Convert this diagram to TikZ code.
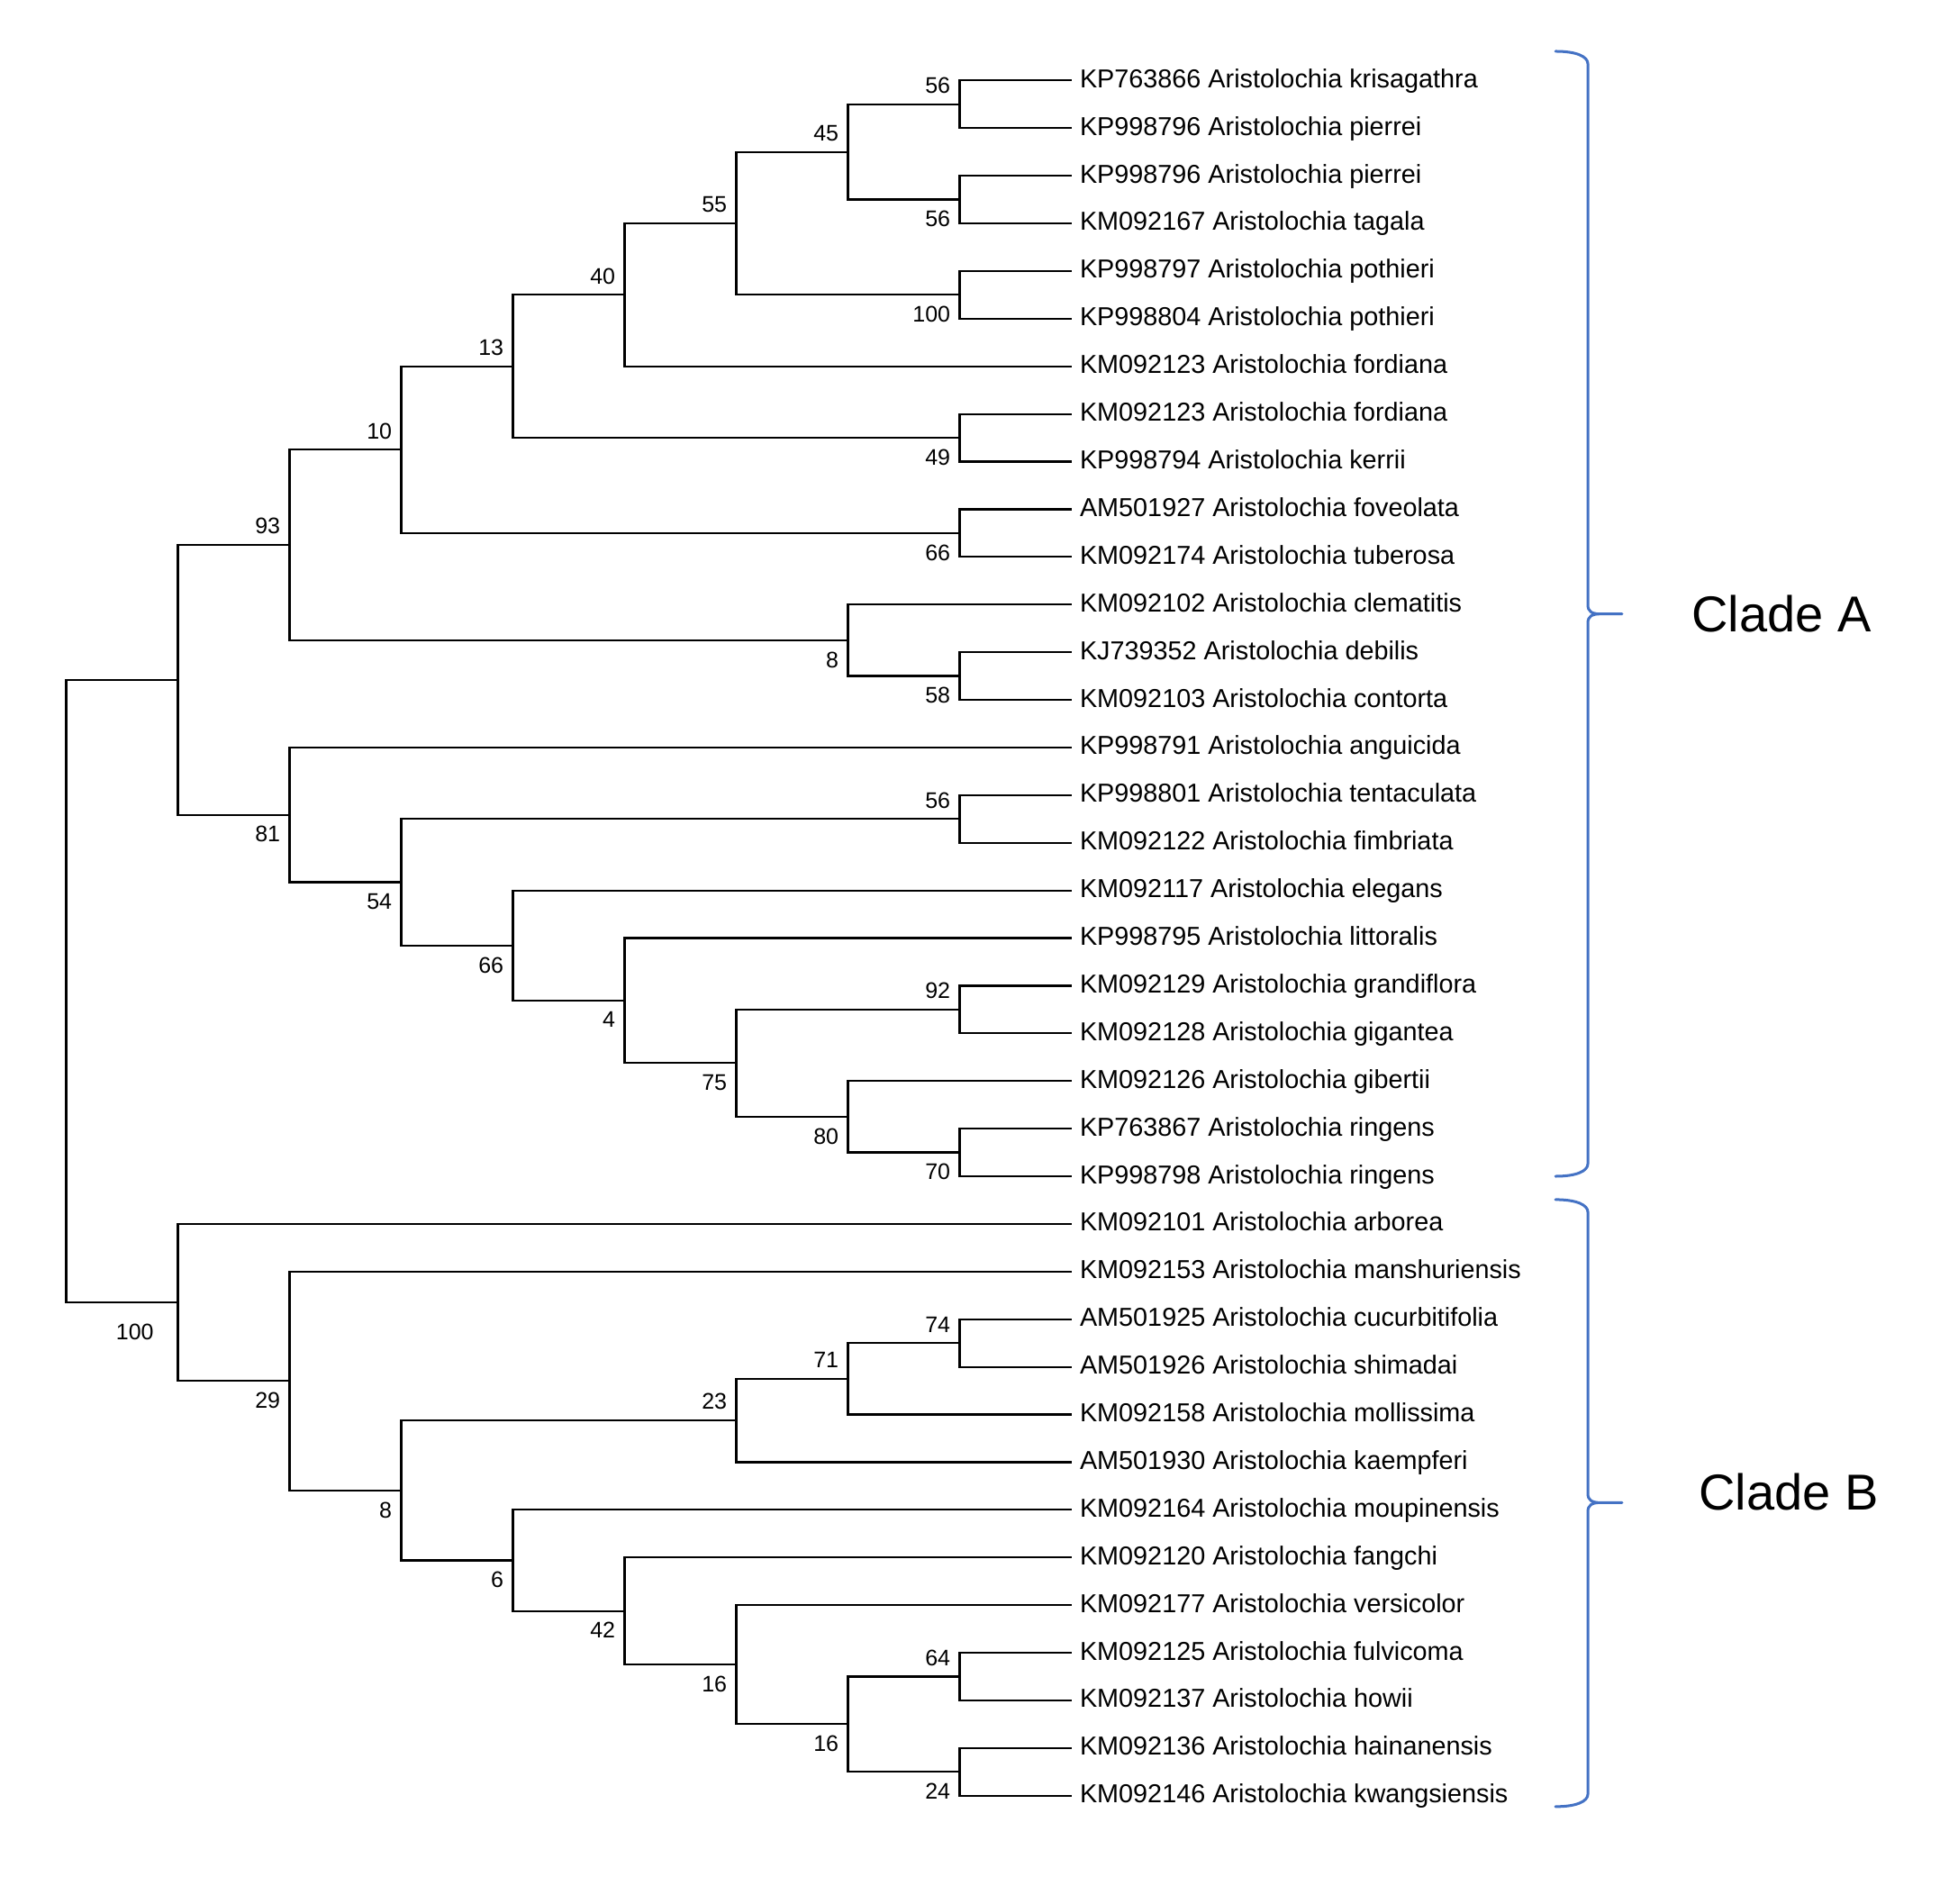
\documentclass[tikz,border=0pt]{standalone}
\usepackage{fontspec}
\setmainfont{Liberation Sans}
\usepackage{xcolor}
\usetikzlibrary{positioning,calc}

\definecolor{braceblue}{RGB}{68,114,196}

\begin{document}
\begin{tikzpicture}[x=62pt, y=-26.45pt,
    branch/.style={draw, line width=1.1pt},
    leaf/.style={anchor=west, inner xsep=4.75pt, inner ysep=0pt, outer sep=0pt, text height=8pt, text depth=0pt, font=\fontsize{14.4}{16}\selectfont},
    bootup/.style={anchor=south east, inner sep=0pt, xshift=-5pt, yshift=5.8pt, font=\fontsize{12.5}{14}\selectfont},
    bootdown/.style={anchor=north east, inner sep=0pt, xshift=-5pt, yshift=-6.2pt, font=\fontsize{12.5}{14}\selectfont},
    clade/.style={inner sep=0pt, font=\fontsize{28}{32}\selectfont},
    brace/.style={draw=braceblue, line width=1.5pt, line cap=round}]
    \useasboundingbox (-36.75pt,18.2pt) rectangle (1045.25pt,-1038.8pt);

    % inner nodes (level, row)
    \coordinate (root) at (0,20.115);
    \coordinate (A) at (1,13.582);
    \coordinate (B) at (1,26.648);
    \coordinate (n93) at (2,10.75);
    \coordinate (n10) at (3,8.75);
    \coordinate (n13) at (4,7);
    \coordinate (n40) at (5,5.5);
    \coordinate (n55) at (6,4);
    \coordinate (n45) at (7,2.5);
    \coordinate (n56a) at (8,1.5);
    \coordinate (n56b) at (8,3.5);
    \coordinate (n100a) at (8,5.5);
    \coordinate (n49) at (8,8.5);
    \coordinate (n66a) at (8,10.5);
    \coordinate (n8a) at (7,12.75);
    \coordinate (n58) at (8,13.5);
    \coordinate (n81) at (2,16.414);
    \coordinate (n54) at (3,17.828);
    \coordinate (n56c) at (8,16.5);
    \coordinate (n66b) at (4,19.156);
    \coordinate (n4) at (5,20.3125);
    \coordinate (n75) at (6,21.625);
    \coordinate (n92) at (8,20.5);
    \coordinate (n80) at (7,22.75);
    \coordinate (n70) at (8,23.5);
    \coordinate (n29) at (2,28.297);
    \coordinate (n8b) at (3,30.594);
    \coordinate (n23) at (6,29.125);
    \coordinate (n71) at (7,28.25);
    \coordinate (n74) at (8,27.5);
    \coordinate (n6) at (4,32.0625);
    \coordinate (n42) at (5,33.125);
    \coordinate (n16a) at (6,34.25);
    \coordinate (n16b) at (7,35.5);
    \coordinate (n64) at (8,34.5);
    \coordinate (n24) at (8,36.5);

    % leaves
    \node (l1) [leaf] at (9,1) {KP763866 Aristolochia krisagathra};
    \node (l2) [leaf] at (9,2) {KP998796 Aristolochia pierrei};
    \node (l3) [leaf] at (9,3) {KP998796 Aristolochia pierrei};
    \node (l4) [leaf] at (9,4) {KM092167 Aristolochia tagala};
    \node (l5) [leaf] at (9,5) {KP998797 Aristolochia pothieri};
    \node (l6) [leaf] at (9,6) {KP998804 Aristolochia pothieri};
    \node (l7) [leaf] at (9,7) {KM092123 Aristolochia fordiana};
    \node (l8) [leaf] at (9,8) {KM092123 Aristolochia fordiana};
    \node (l9) [leaf] at (9,9) {KP998794 Aristolochia kerrii};
    \node (l10) [leaf] at (9,10) {AM501927 Aristolochia foveolata};
    \node (l11) [leaf] at (9,11) {KM092174 Aristolochia tuberosa};
    \node (l12) [leaf] at (9,12) {KM092102 Aristolochia clematitis};
    \node (l13) [leaf] at (9,13) {KJ739352 Aristolochia debilis};
    \node (l14) [leaf] at (9,14) {KM092103 Aristolochia contorta};
    \node (l15) [leaf] at (9,15) {KP998791 Aristolochia anguicida};
    \node (l16) [leaf] at (9,16) {KP998801 Aristolochia tentaculata};
    \node (l17) [leaf] at (9,17) {KM092122 Aristolochia fimbriata};
    \node (l18) [leaf] at (9,18) {KM092117 Aristolochia elegans};
    \node (l19) [leaf] at (9,19) {KP998795 Aristolochia littoralis};
    \node (l20) [leaf] at (9,20) {KM092129 Aristolochia grandiflora};
    \node (l21) [leaf] at (9,21) {KM092128 Aristolochia gigantea};
    \node (l22) [leaf] at (9,22) {KM092126 Aristolochia gibertii};
    \node (l23) [leaf] at (9,23) {KP763867 Aristolochia ringens};
    \node (l24) [leaf] at (9,24) {KP998798 Aristolochia ringens};
    \node (l25) [leaf] at (9,25) {KM092101 Aristolochia arborea};
    \node (l26) [leaf] at (9,26) {KM092153 Aristolochia manshuriensis};
    \node (l27) [leaf] at (9,27) {AM501925 Aristolochia cucurbitifolia};
    \node (l28) [leaf] at (9,28) {AM501926 Aristolochia shimadai};
    \node (l29) [leaf] at (9,29) {KM092158 Aristolochia mollissima};
    \node (l30) [leaf] at (9,30) {AM501930 Aristolochia kaempferi};
    \node (l31) [leaf] at (9,31) {KM092164 Aristolochia moupinensis};
    \node (l32) [leaf] at (9,32) {KM092120 Aristolochia fangchi};
    \node (l33) [leaf] at (9,33) {KM092177 Aristolochia versicolor};
    \node (l34) [leaf] at (9,34) {KM092125 Aristolochia fulvicoma};
    \node (l35) [leaf] at (9,35) {KM092137 Aristolochia howii};
    \node (l36) [leaf] at (9,36) {KM092136 Aristolochia hainanensis};
    \node (l37) [leaf] at (9,37) {KM092146 Aristolochia kwangsiensis};

    % branches
    \draw [branch] (root) |- (A) (root) |- (B);
    \draw [branch] (A) |- (n93) (A) |- (n81);
    \draw [branch] (n93) |- (n10) (n93) |- (n8a);
    \draw [branch] (n10) |- (n13) (n10) |- (n66a);
    \draw [branch] (n13) |- (n40) (n13) |- (n49);
    \draw [branch] (n40) |- (n55) (n40) |- (l7);
    \draw [branch] (n55) |- (n45) (n55) |- (n100a);
    \draw [branch] (n45) |- (n56a) (n45) |- (n56b);
    \draw [branch] (n56a) |- (l1) (n56a) |- (l2);
    \draw [branch] (n56b) |- (l3) (n56b) |- (l4);
    \draw [branch] (n100a) |- (l5) (n100a) |- (l6);
    \draw [branch] (n49) |- (l8) (n49) |- (l9);
    \draw [branch] (n66a) |- (l10) (n66a) |- (l11);
    \draw [branch] (n8a) |- (l12) (n8a) |- (n58);
    \draw [branch] (n58) |- (l13) (n58) |- (l14);
    \draw [branch] (n81) |- (l15) (n81) |- (n54);
    \draw [branch] (n54) |- (n56c) (n54) |- (n66b);
    \draw [branch] (n56c) |- (l16) (n56c) |- (l17);
    \draw [branch] (n66b) |- (l18) (n66b) |- (n4);
    \draw [branch] (n4) |- (l19) (n4) |- (n75);
    \draw [branch] (n75) |- (n92) (n75) |- (n80);
    \draw [branch] (n92) |- (l20) (n92) |- (l21);
    \draw [branch] (n80) |- (l22) (n80) |- (n70);
    \draw [branch] (n70) |- (l23) (n70) |- (l24);
    \draw [branch] (B) |- (l25) (B) |- (n29);
    \draw [branch] (n29) |- (l26) (n29) |- (n8b);
    \draw [branch] (n8b) |- (n23) (n8b) |- (n6);
    \draw [branch] (n23) |- (n71) (n23) |- (l30);
    \draw [branch] (n71) |- (n74) (n71) |- (l29);
    \draw [branch] (n74) |- (l27) (n74) |- (l28);
    \draw [branch] (n6) |- (l31) (n6) |- (n42);
    \draw [branch] (n42) |- (l32) (n42) |- (n16a);
    \draw [branch] (n16a) |- (l33) (n16a) |- (n16b);
    \draw [branch] (n16b) |- (n64) (n16b) |- (n24);
    \draw [branch] (n64) |- (l34) (n64) |- (l35);
    \draw [branch] (n24) |- (l36) (n24) |- (l37);

    % bootstrap values
    \node (bB) [bootdown, xshift=-8.25pt, yshift=-5.8pt] at (B) {100};
    \node (b93) [bootup] at (n93) {93};
    \node (b10) [bootup] at (n10) {10};
    \node (b13) [bootup] at (n13) {13};
    \node (b40) [bootup] at (n40) {40};
    \node (b55) [bootup] at (n55) {55};
    \node (b45) [bootup] at (n45) {45};
    \node (b56a) [bootup] at (n56a) {56};
    \node (b56b) [bootdown] at (n56b) {56};
    \node (b100a) [bootdown] at (n100a) {100};
    \node (b49) [bootdown] at (n49) {49};
    \node (b66a) [bootdown] at (n66a) {66};
    \node (b8a) [bootdown] at (n8a) {8};
    \node (b58) [bootdown] at (n58) {58};
    \node (b81) [bootdown] at (n81) {81};
    \node (b54) [bootdown] at (n54) {54};
    \node (b56c) [bootup] at (n56c) {56};
    \node (b66b) [bootdown] at (n66b) {66};
    \node (b4) [bootdown] at (n4) {4};
    \node (b75) [bootdown] at (n75) {75};
    \node (b92) [bootup] at (n92) {92};
    \node (b80) [bootdown] at (n80) {80};
    \node (b70) [bootdown] at (n70) {70};
    \node (b29) [bootdown] at (n29) {29};
    \node (b8b) [bootdown] at (n8b) {8};
    \node (b23) [bootup] at (n23) {23};
    \node (b71) [bootup] at (n71) {71};
    \node (b74) [bootup] at (n74) {74};
    \node (b6) [bootdown] at (n6) {6};
    \node (b42) [bootdown] at (n42) {42};
    \node (b16a) [bootdown] at (n16a) {16};
    \node (b16b) [bootdown] at (n16b) {16};
    \node (b64) [bootup] at (n64) {64};
    \node (b24) [bootdown] at (n24) {24};

    % clade braces
    \coordinate (Atop) at (13.335,0.389);
    \coordinate (Atip) at ($(13.335,12.198)+(37pt,0pt)$);
    \coordinate (Abot) at (13.335,24.0);
    \coordinate (Btop) at (13.335,24.49);
    \coordinate (Btip) at ($(13.335,30.85)+(37pt,0pt)$);
    \coordinate (Bbot) at (13.335,37.23);

    \draw [brace] (Atop) .. controls +(12pt,0pt) and +(0pt,4pt) .. ($(Atop)+(18pt,-7pt)$)
        -- ($(Atip)+(-19pt,5pt)$) .. controls +(0pt,-3.5pt) and +(-5pt,0pt) .. ($(Atip)+(-12pt,0pt)$) -- (Atip)
        ($(Atip)+(-12pt,0pt)$) .. controls +(-5pt,0pt) and +(0pt,3.5pt) .. ($(Atip)+(-19pt,-5pt)$)
        -- ($(Abot)+(18pt,7pt)$) .. controls +(0pt,-4pt) and +(12pt,0pt) .. (Abot);
    \draw [brace] (Btop) .. controls +(12pt,0pt) and +(0pt,4pt) .. ($(Btop)+(18pt,-7pt)$)
        -- ($(Btip)+(-19pt,5pt)$) .. controls +(0pt,-3.5pt) and +(-5pt,0pt) .. ($(Btip)+(-12pt,0pt)$) -- (Btip)
        ($(Btip)+(-12pt,0pt)$) .. controls +(-5pt,0pt) and +(0pt,3.5pt) .. ($(Btip)+(-19pt,-5pt)$)
        -- ($(Bbot)+(18pt,7pt)$) .. controls +(0pt,-4pt) and +(12pt,0pt) .. (Bbot);

    \node (cladeA) [clade, right=38.5pt of Atip] {Clade A};
    \node (cladeB) [clade, right=42.5pt of Btip, yshift=6pt] {Clade B};
\end{tikzpicture}
\end{document}
